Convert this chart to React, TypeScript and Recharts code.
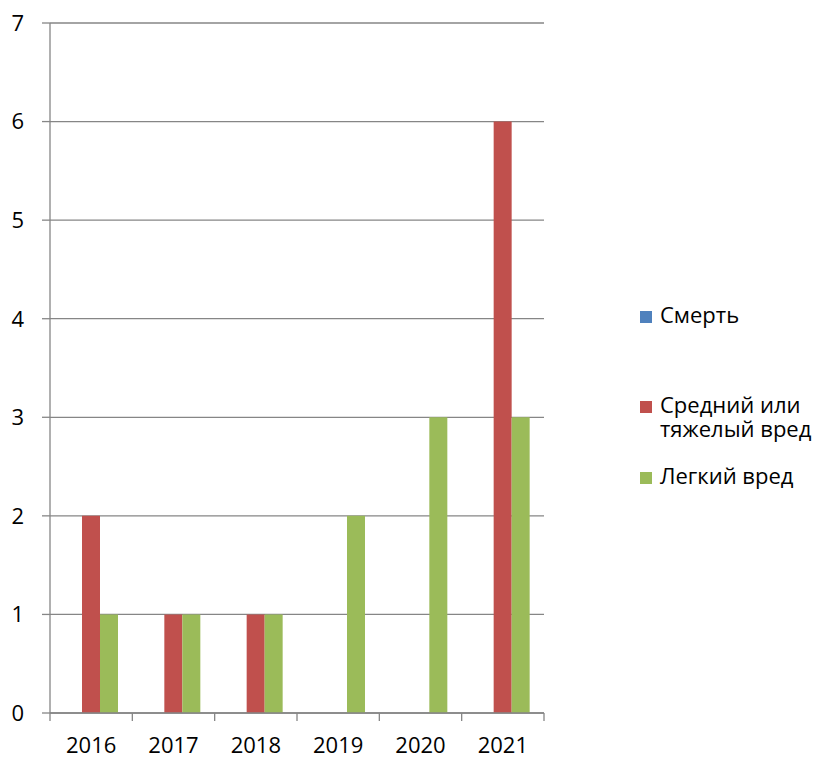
import { Bar, BarChart, CartesianGrid, XAxis, YAxis } from "recharts";

const years = ["2016", "2017", "2018", "2019", "2020", "2021"];
const deaths = [0, 0, 0, 0, 0, 0];
const severeHarm = [2, 1, 1, 0, 0, 6];
const lightHarm = [1, 1, 1, 2, 3, 3];
const yTicks = [0, 1, 2, 3, 4, 5, 6, 7];

const seriesNames = ["Смерть", "Средний или тяжелый вред", "Легкий вред"];
const seriesColors = ["#4F81BD", "#C0504D", "#9BBB59"];

const data = years.map((year, i) => ({
  year,
  deaths: deaths[i],
  severeHarm: severeHarm[i],
  lightHarm: lightHarm[i],
}));

const FONT = "'Open Sans', sans-serif";
const GRID = "#868686";

// category ticks sit on band boundaries like in Excel, labels in the middle
function YearTick(props: any) {
  const { x, y, payload, index, visibleTicksCount } = props;
  const half = payload.offset || 0;
  return (
    <g>
      <line x1={x - half} x2={x - half} y1={y} y2={y + 8} stroke={GRID} strokeWidth={1.3} />
      {index === visibleTicksCount - 1 && (
        <line x1={x + half} x2={x + half} y1={y} y2={y + 8} stroke={GRID} strokeWidth={1.3} />
      )}
      <text
        x={x}
        y={y + 24}
        dy="0.71em"
        textAnchor="middle"
        fill="#000"
        fontSize={22}
        fontFamily={FONT}
      >
        {payload.value}
      </text>
    </g>
  );
}

const legendGaps = [66, 23, 0];

export default function App() {
  return (
    <div style={{ position: "relative", width: 819, height: 751 }}>
      <BarChart
        width={819}
        height={751}
        data={data}
        margin={{ top: 15, right: 283, left: 0, bottom: 0 }}
        barCategoryGap="17%"
        barGap={0}
      >
        <CartesianGrid vertical={false} stroke={GRID} strokeWidth={1.3} />
        <XAxis
          dataKey="year"
          height={46}
          tickLine={false}
          tickSize={0}
          tickMargin={0}
          stroke={GRID}
          strokeWidth={1.3}
          tick={<YearTick />}
          interval={0}
        />
        <YAxis
          width={42}
          domain={[0, 7]}
          ticks={yTicks}
          tickSize={8}
          tickMargin={18}
          stroke={GRID}
          strokeWidth={1.3}
          tick={{ fill: "#000", fontSize: 22, fontFamily: FONT }}
        />
        <Bar dataKey="deaths" name={seriesNames[0]} fill={seriesColors[0]} isAnimationActive={false} />
        <Bar dataKey="severeHarm" name={seriesNames[1]} fill={seriesColors[1]} isAnimationActive={false} />
        <Bar dataKey="lightHarm" name={seriesNames[2]} fill={seriesColors[2]} isAnimationActive={false} />
      </BarChart>

      <div
        style={{
          position: "absolute",
          left: 632,
          top: 293.5,
          fontFamily: FONT,
          fontSize: 22,
          lineHeight: "24px",
          color: "#000",
        }}
      >
        {seriesNames.map((name, i) => (
          <div key={name} style={{ display: "flex", alignItems: "flex-start", marginBottom: legendGaps[i] }}>
            <span
              style={{
                display: "inline-block",
                width: 12,
                height: 12,
                marginTop: 9,
                marginRight: 8,
                background: seriesColors[i],
              }}
            />
            <span style={{ width: 168 }}>{name}</span>
          </div>
        ))}
      </div>
    </div>
  );
}
